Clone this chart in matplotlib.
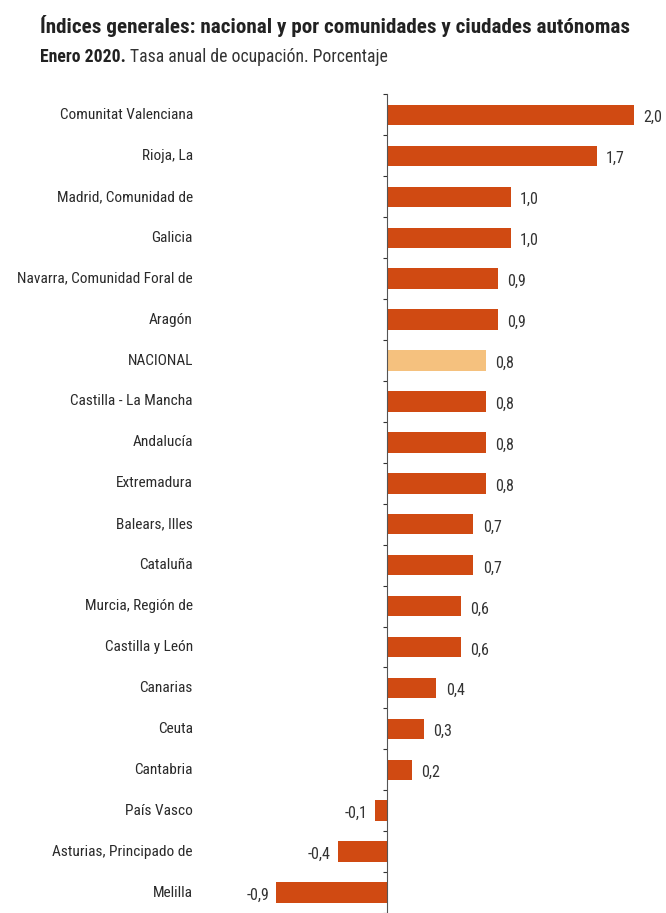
import numpy as np
import matplotlib.pyplot as plt
import matplotlib.transforms as mtransforms
from matplotlib import font_manager

regiones = ['Comunitat Valenciana', 'Rioja, La', 'Madrid, Comunidad de', 'Galicia',
            'Navarra, Comunidad Foral de', 'Aragón', 'NACIONAL', 'Castilla - La Mancha',
            'Andalucía', 'Extremadura', 'Balears, Illes', 'Cataluña', 'Murcia, Región de',
            'Castilla y León', 'Canarias', 'Ceuta', 'Cantabria', 'País Vasco',
            'Asturias, Principado de', 'Melilla']
tasas = [2.0, 1.7, 1.0, 1.0, 0.9, 0.9, 0.8, 0.8, 0.8, 0.8, 0.7, 0.7, 0.6, 0.6,
         0.4, 0.3, 0.2, -0.1, -0.4, -0.9]

# buscar una fuente estrecha si la hay
fonts = font_manager.fontManager.ttflist
names = {f.name for f in fonts}
stretch = 'normal'
familia = 'Liberation Sans'
for cand in ['Liberation Sans Narrow', 'Arial Narrow', 'Roboto Condensed', 'Open Sans Condensed']:
    if cand in names:
        familia = cand
        break
else:
    if any(f.name == 'DejaVu Sans' and f.stretch == 'condensed' for f in fonts):
        familia, stretch = 'DejaVu Sans', 'condensed'
plt.rcParams['font.family'] = [familia, 'DejaVu Sans']
plt.rcParams['font.stretch'] = stretch

naranja = '#D04A12'
claro = '#F5C17E'
colores = [claro if r == 'NACIONAL' else naranja for r in regiones]

fig = plt.figure(figsize=(6.66, 9.13), dpi=100)
W, H = 666, 913
x0, escala = 387, 123.5
xmin, xmax = -1.2, 2.2
left = (x0 + escala * xmin) / W
width = escala * (xmax - xmin) / W
ax = fig.add_axes([left, 0.0, width, 818.5 / H])
renderer = fig.canvas.get_renderer()


def ajustar(t, ancho):
    # ajusta el tamaño de letra para que el texto ocupe 'ancho' px
    w = t.get_window_extent(renderer).width
    t.set_fontsize(t.get_fontsize() * ancho / w)


y = np.arange(len(regiones))
ax.barh(y, tasas, height=0.5, color=colores, zorder=2)
ax.set_xlim(xmin, xmax)
ax.set_ylim(len(regiones) - 0.5, -0.5)

for s in ['top', 'right', 'bottom']:
    ax.spines[s].set_visible(False)
ax.spines['left'].set_position(('data', 0))
ax.spines['left'].set_color('#555555')
ax.spines['left'].set_linewidth(0.8)
ax.set_xticks([])
ax.set_yticks(np.arange(-0.5, len(regiones), 1.0))
ax.set_yticklabels([])
ax.tick_params(axis='y', length=3, width=0.8, color='#333333', direction='out')

blend = mtransforms.blended_transform_factory(fig.transFigure, ax.transData)
etiquetas = []
for yi, r in zip(y, regiones):
    etiquetas.append(ax.text(193 / W, yi, r, transform=blend, ha='right', va='center',
                             fontsize=11, color='#2a2a2a'))
ajustar(etiquetas[4], 175)
fs_lab = etiquetas[4].get_fontsize()
for t in etiquetas:
    t.set_fontsize(fs_lab)

valores = []
for yi, v in zip(y, tasas):
    txt = f'{v:.1f}'.replace('.', ',')
    if v >= 0:
        t = ax.text(v + 0.075, yi + 0.07, txt, ha='left', va='center', fontsize=11, color='#333333')
    else:
        t = ax.text(v - 0.055, yi + 0.07, txt, ha='right', va='center', fontsize=11, color='#333333')
    valores.append(t)
ajustar(valores[0], 19)
for t in valores:
    t.set_fontsize(valores[0].get_fontsize())

tit = fig.text(40 / W, 1 - 33 / H, 'Índices generales: nacional y por comunidades y ciudades autónomas',
               fontsize=15.5, fontweight='bold', color='#222222', va='baseline')
ajustar(tit, 592)

t1 = fig.text(40 / W, 1 - 62 / H, 'Enero 2020.', fontsize=12.5, fontweight='bold',
              color='#222222', va='baseline')
t2 = fig.text(0, 1 - 62 / H, 'Tasa anual de ocupación. Porcentaje',
              fontsize=12.5, color='#333333', va='baseline')
w1 = t1.get_window_extent(renderer).width
w2 = t2.get_window_extent(renderer).width
k = 343 / (w1 + w2)
t1.set_fontsize(12.5 * k)
t2.set_fontsize(12.5 * k)
bb = t1.get_window_extent(renderer)
t2.set_x((bb.x1 + 4) / W)

fig.savefig('out.png', dpi=100)
